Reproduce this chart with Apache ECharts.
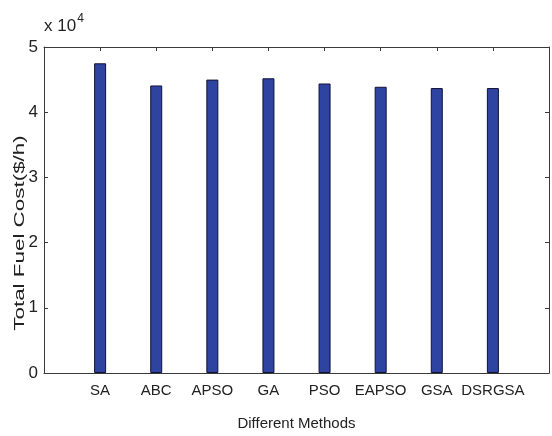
<!DOCTYPE html>
<html><head><meta charset="utf-8">
<script src="https://cdn.jsdelivr.net/npm/echarts@6/dist/echarts.min.js"></script>
<style>html,body{margin:0;padding:0;background:#fff}#c{width:552px;height:436px}</style>
</head><body><div id="c"></div>
<script>
const methods = ['SA','ABC','APSO','GA','PSO','EAPSO','GSA','DSRGSA'];
const costs = [47500, 44100, 45000, 45200, 44400, 43900, 43700, 43700];
const yTicks = [0, 10000, 20000, 30000, 40000, 50000];
const xTitle = 'Different Methods';
const yTitle = 'Total Fuel Cost($/h)';

const FN = '"Liberation Sans Narrow", "Liberation Sans", Arial, sans-serif';
const axisCol = '#3a3a3a';
const chart = echarts.init(document.getElementById('c'));
const positions = methods.map((m, i) => [i + 1, costs[i]]);
chart.setOption({
  animation: false,
  grid: {left: 44, right: 1, top: 47, bottom: 59},
  xAxis: [{
    type: 'value', min: 0, max: methods.length + 1, interval: 1,
    axisLine: {show: true, onZero: false, lineStyle: {color: axisCol, width: 1}},
    axisTick: {show: true, inside: true, length: 4, lineStyle: {color: axisCol}},
    splitLine: {show: false},
    axisLabel: {
      fontFamily: FN, fontSize: 15, color: '#222', margin: 10,
      formatter: v => (v >= 1 && v <= methods.length) ? methods[v - 1] : ''
    },
    name: xTitle, nameLocation: 'middle', nameGap: 43,
    nameTextStyle: {fontFamily: FN, fontSize: 15, color: '#222'}
  }, {
    type: 'value', position: 'top', min: 0, max: methods.length + 1, interval: 1,
    axisLine: {show: true, onZero: false, lineStyle: {color: axisCol, width: 1}},
    axisTick: {show: true, inside: true, length: 4, lineStyle: {color: axisCol}},
    axisLabel: {show: false}, splitLine: {show: false}
  }],
  yAxis: [{
    type: 'value', min: 0, max: 50000, interval: 10000,
    axisLine: {show: true, onZero: false, lineStyle: {color: axisCol, width: 1}},
    axisTick: {show: true, inside: true, length: 4, lineStyle: {color: axisCol}},
    splitLine: {show: false},
    axisLabel: {fontFamily: FN, fontSize: 17, color: '#222', margin: 6,
      formatter: v => yTicks.includes(v) ? String(v / 10000) : ''}
  }, {
    type: 'value', position: 'right', min: 0, max: 50000, interval: 10000,
    axisLine: {show: true, onZero: false, lineStyle: {color: axisCol, width: 1}},
    axisTick: {show: true, inside: true, length: 4, lineStyle: {color: axisCol}},
    axisLabel: {show: false}, splitLine: {show: false}
  }],
  series: [{
    type: 'bar', data: positions, barWidth: 12, xAxisIndex: 0, yAxisIndex: 0,
    itemStyle: {color: '#2f44a0', borderColor: '#111133', borderWidth: 1}
  }],
  graphic: [{
    type: 'text', left: 44, top: 13,
    style: {
      text: '{a|x 10}{b|4}',
      rich: {
        a: {fontFamily: FN, fontSize: 17, fill: '#222', verticalAlign: 'bottom'},
        b: {fontFamily: FN, fontSize: 12, fill: '#222', verticalAlign: 'top', padding: [0,0,10,1]}
      }
    }
  }, {
    type: 'text', x: 20, y: 233, rotation: Math.PI / 2, scaleX: 1.6, scaleY: 1,
    style: {text: yTitle, fontFamily: '"Liberation Sans", Arial, sans-serif', fontSize: 14,
      fill: '#222', align: 'center', verticalAlign: 'middle'}
  }]
});
</script></body></html>
